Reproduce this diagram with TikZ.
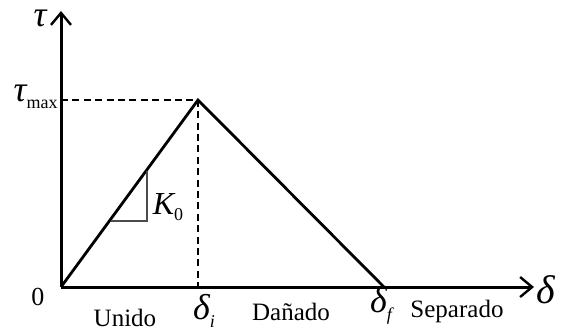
\documentclass[tikz,border=0pt]{standalone}
\usepackage{fontspec}
\setmainfont{Liberation Serif}
\usetikzlibrary{arrows.meta}
\newcommand{\lowsub}[1]{\raisebox{-0.45ex}{\fontsize{9}{10}\selectfont #1}}
\begin{document}
\begin{tikzpicture}[x=0.5pt,y=-0.5pt, font=\fontsize{12.5}{15}\selectfont,
  axis/.style={line width=1.5pt,-{Straight Barb[length=6pt,width=10pt,line width=1.2pt]}},
  curve/.style={line width=1.4pt},
  guide/.style={line width=1.1pt,dash pattern=on 3.5pt off 2.2pt},
  slope/.style={line width=0.6pt,draw=black!70},
  greek/.style={font=\fontsize{18}{20}\selectfont\itshape},
  lbl/.style={inner sep=0pt}]
\useasboundingbox (0,0) rectangle (563,334);
\coordinate (O) at (61,287);
\coordinate (ytop) at (61,11);
\coordinate (xend) at (534,287);
\coordinate (P) at (198,100);
\coordinate (F) at (384,287);
\coordinate (Pd) at (198,287);
\coordinate (Py) at (61,100);
\coordinate (t1) at (111,221);
\coordinate (t2) at (147,221);
\coordinate (t3) at (147,171);
\draw[guide] (Py) -- (P) -- (Pd);
\draw[curve] (O) -- (P) -- (F);
\draw[slope] (t1) -- (t2) -- (t3);
\draw[axis] (O) -- (ytop);
\draw[axis] (O) -- (xend);
\node[lbl,greek] (tau) at (40,18) {τ};
\node[lbl,greek,anchor=east] (taumax) at (58,97) {τ\lowsub{\upshape max}};
\node[lbl,font=\fontsize{16}{18}\selectfont\itshape] (K) at (168,207) {K\lowsub{\upshape 0}};
\node[lbl,font=\fontsize{13}{15}\selectfont] (zero) at (38,297) {0};
\node[lbl] (unido) at (125,318) {Unido};
\node[lbl,greek] (di) at (204,311) {δ\lowsub{i}};
\node[lbl] (danado) at (291,312) {Dañado};
\node[lbl,greek] (df) at (381,306) {δ\lowsub{f}};
\node[lbl] (sep) at (457,311) {Separado};
\node[lbl,font=\fontsize{20}{22}\selectfont\itshape] (delta) at (546,290) {δ};
\end{tikzpicture}
\end{document}
